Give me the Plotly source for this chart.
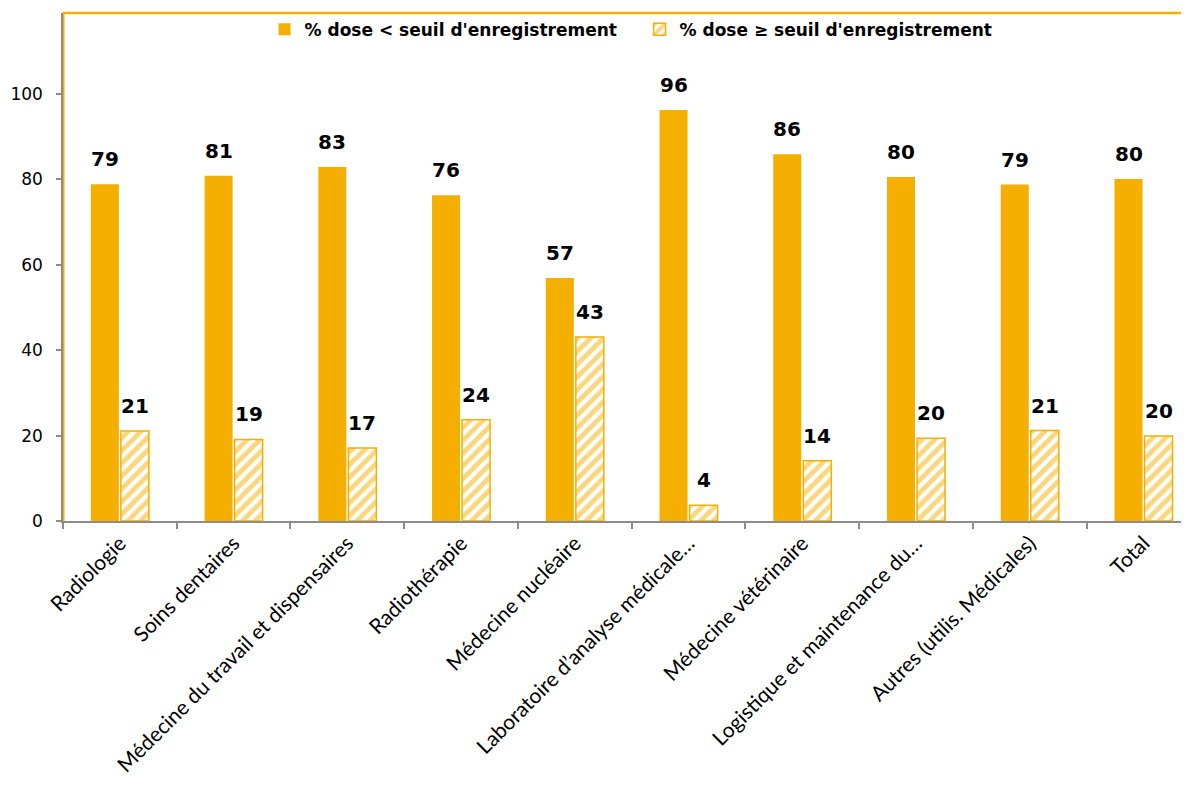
import plotly.graph_objects as go

categories = [
    "Radiologie",
    "Soins dentaires",
    "Médecine du travail et dispensaires",
    "Radiothérapie",
    "Médecine nucléaire",
    "Laboratoire d’analyse médicale…",
    "Médecine vétérinaire",
    "Logistique et maintenance du…",
    "Autres (utilis. Médicales)",
    "Total",
]
below_threshold = [78.9, 80.9, 82.9, 76.3, 56.9, 96.3, 85.9, 80.6, 78.8, 80.1]
above_threshold = [21.1, 19.1, 17.1, 23.7, 43.1, 3.7, 14.1, 19.4, 21.2, 19.9]
below_labels = [79, 81, 83, 76, 57, 96, 86, 80, 79, 80]
above_labels = [21, 19, 17, 24, 43, 4, 14, 20, 21, 20]
series_names = ["% dose < seuil d'enregistrement", "% dose ≥ seuil d'enregistrement"]
y_ticks = [0, 20, 40, 60, 80, 100]

ORANGE = "#F5AF00"
GREY = "#8C8C8C"

fig = go.Figure()
fig.add_trace(go.Bar(
    x=categories, y=below_threshold, name=series_names[0],
    marker=dict(color=ORANGE, line=dict(color=ORANGE, width=0)),
    hoverinfo="skip",
))
fig.add_trace(go.Bar(
    x=categories, y=above_threshold, name=series_names[1],
    marker=dict(
        color="white",
        line=dict(color=ORANGE, width=1.5),
        pattern=dict(shape="/", fgcolor=ORANGE, bgcolor="white", size=9, solidity=0.55),
    ),
    hoverinfo="skip",
))

label_font = dict(family="DejaVu Sans", size=20, color="#000000", weight="bold")
annotations = []
for cat, val, lab in zip(categories, below_threshold, below_labels):
    annotations.append(dict(x=cat, y=val, xref="x", yref="y", text=str(lab),
                            showarrow=False, xshift=-15, yshift=11, yanchor="bottom",
                            font=label_font))
for cat, val, lab in zip(categories, above_threshold, above_labels):
    annotations.append(dict(x=cat, y=val, xref="x", yref="y", text=str(lab),
                            showarrow=False, xshift=15, yshift=11, yanchor="bottom",
                            font=label_font))

fig.update_layout(
    width=1181, height=779,
    margin=dict(l=55, r=0, t=5, b=266, pad=0),
    paper_bgcolor="white", plot_bgcolor="white",
    barmode="group", bargap=0.472, bargroupgap=0.067,
    showlegend=True,
    legend=dict(orientation="h", x=0.179, xanchor="left", y=0.967, yanchor="middle",
                font=dict(family="DejaVu Sans", size=17, color="#000000", weight="bold"),
                bgcolor="rgba(0,0,0,0)", itemwidth=30, entrywidth=330,
                entrywidthmode="pixels", traceorder="normal"),
    annotations=annotations,
    shapes=[
        dict(type="line", xref="paper", yref="paper", x0=0, x1=1, y0=1, y1=1,
             line=dict(color=ORANGE, width=2.5), layer="below"),
        dict(type="line", xref="paper", yref="paper", x0=0, x1=0, y0=0, y1=1,
             line=dict(color=ORANGE, width=3), layer="below"),
    ],
    xaxis=dict(
        range=[-0.5, 9.4], tickangle=-45, tickson="boundaries",
        ticks="outside", ticklen=6, tickcolor=GREY, tickwidth=1.5,
        showline=True, linecolor=GREY, linewidth=1.5, showgrid=False,
        tickfont=dict(family="Lato", size=21, color="#000000"),
        automargin=False,
    ),
    yaxis=dict(
        range=[0, 119], tickvals=y_ticks,
        ticks="outside", ticklen=5, tickcolor=GREY, tickwidth=1.5,
        showline=True, linecolor=GREY, linewidth=1.5, showgrid=False, zeroline=False,
        tickfont=dict(family="DejaVu Sans", size=17, color="#000000"),
        ticklabelstandoff=10, automargin=False,
    ),
)

fig.write_html("out.html")
